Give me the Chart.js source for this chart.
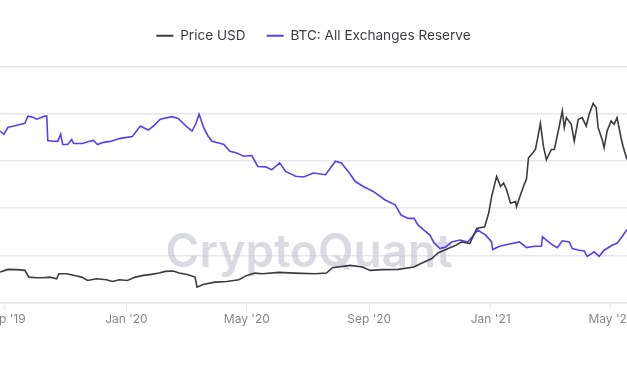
<!DOCTYPE html>
<html>
<head>
<meta charset="utf-8">
<script src="https://cdn.jsdelivr.net/npm/chart.js@4.4.1/dist/chart.umd.min.js"></script>
<style>
  html, body { margin: 0; padding: 0; background: #ffffff; overflow: hidden; }
  body { width: 627px; height: 376px; position: relative; }
  #wrap { position: absolute; left: -40px; top: 0; width: 707px; height: 376px; }
</style>
</head>
<body>
<div id="wrap"><canvas id="c"></canvas></div>
<script>
// ---- data ----
const seriesNames = ["Price USD", "BTC: All Exchanges Reserve"];

const tickDates  = ["2019-09-01", "2020-01-01", "2020-05-01", "2020-09-01", "2021-01-01", "2021-05-01"];
const tickLabels = ["Sep '19", "Jan '20", "May '20", "Sep '20", "Jan '21", "May '21"];
const rangeStart = "2019-08-27";
const rangeEnd   = "2021-05-18";

const priceDates = [
  "2019-08-27","2019-09-01","2019-09-04","2019-09-13","2019-09-21","2019-09-25","2019-10-03","2019-10-09",
  "2019-10-16","2019-10-23","2019-10-25","2019-11-02","2019-11-10","2019-11-17","2019-11-23","2019-12-02",
  "2019-12-12","2019-12-18","2019-12-25","2020-01-02","2020-01-10","2020-01-18","2020-01-26","2020-02-03",
  "2020-02-09","2020-02-17","2020-02-23","2020-03-02","2020-03-10","2020-03-12","2020-03-18","2020-03-30",
  "2020-04-11","2020-04-23","2020-05-01","2020-05-09","2020-05-17","2020-06-02","2020-06-18","2020-07-08",
  "2020-07-20","2020-07-26","2020-08-13","2020-08-25","2020-09-02","2020-09-14","2020-09-30","2020-10-16",
  "2020-10-24","2020-11-03","2020-11-09","2020-11-17","2020-11-27","2020-12-03","2020-12-11","2020-12-18",
  "2020-12-26","2020-12-30","2021-01-02","2021-01-07","2021-01-11","2021-01-14","2021-01-17","2021-01-21",
  "2021-01-26","2021-01-27","2021-01-31","2021-02-03","2021-02-06","2021-02-08","2021-02-11","2021-02-15",
  "2021-02-17","2021-02-20","2021-02-23","2021-02-26","2021-03-03","2021-03-06","2021-03-11","2021-03-14",
  "2021-03-16","2021-03-18","2021-03-23","2021-03-26","2021-03-30","2021-04-03","2021-04-07","2021-04-10",
  "2021-04-14","2021-04-17","2021-04-19","2021-04-23","2021-04-25","2021-04-28","2021-05-02","2021-05-05",
  "2021-05-08","2021-05-12","2021-05-14","2021-05-18"
];
const priceValues = [
  9700,10240,10560,10470,10240,8100,7910,7910,
  8100,7590,9190,9190,8640,8100,7040,7590,
  7270,6720,7270,7040,8100,8640,8960,9380,
  9920,10020,9380,8960,8100,4900,5760,6500,
  6720,7270,8640,9380,9190,9600,9380,9190,
  9380,11110,11840,11300,10240,10470,10560,11300,
  12580,13990,15780,16870,18250,19300,18790,23590,
  24100,28390,33700,40110,36910,38000,35850,31590,
  32110,30510,34250,36910,39370,46000,47060,48660,
  51860,56980,49710,45450,48660,48660,56110,60920,
  55600,58800,56660,51310,58260,58800,56110,59860,
  63280,62000,55600,51860,49200,54510,57710,56660,
  58800,52400,49710,45450
];

const reserveDates = [
  "2019-08-27","2019-08-31","2019-09-04","2019-09-09","2019-09-16","2019-09-21","2019-09-24","2019-09-29",
  "2019-10-03","2019-10-08","2019-10-11","2019-10-13","2019-10-14","2019-10-19","2019-10-24","2019-10-27",
  "2019-10-29","2019-11-03","2019-11-07","2019-11-09","2019-11-18","2019-11-24","2019-11-29","2019-12-03",
  "2019-12-09","2019-12-16","2019-12-22","2019-12-26","2020-01-07","2020-01-15","2020-01-23","2020-01-29",
  "2020-02-04","2020-02-16","2020-02-22","2020-03-01","2020-03-07","2020-03-11","2020-03-14","2020-03-19",
  "2020-03-23","2020-03-27","2020-04-02","2020-04-08","2020-04-14","2020-04-20","2020-04-28","2020-05-06",
  "2020-05-12","2020-05-20","2020-05-26","2020-06-03","2020-06-09","2020-06-19","2020-06-27","2020-07-07",
  "2020-07-19","2020-07-29","2020-08-04","2020-08-12","2020-08-18","2020-08-26","2020-09-05","2020-09-17",
  "2020-09-27","2020-10-03","2020-10-10","2020-10-16","2020-10-20","2020-10-26","2020-11-01","2020-11-05",
  "2020-11-11","2020-11-17","2020-11-23","2020-12-01","2020-12-09","2020-12-19","2020-12-27","2021-01-02",
  "2021-01-03","2021-01-10","2021-01-20","2021-01-30","2021-02-06","2021-02-14","2021-02-21","2021-02-22",
  "2021-02-26","2021-03-03","2021-03-09","2021-03-14","2021-03-21","2021-03-24","2021-03-31","2021-04-05",
  "2021-04-08","2021-04-15","2021-04-20","2021-04-25","2021-05-03","2021-05-08","2021-05-13","2021-05-18"
];
const reserveValues = [
  2.927,2.913,2.943,2.947,2.955,2.960,2.990,2.985,
  2.977,2.985,2.990,2.990,2.887,2.884,2.883,2.913,
  2.870,2.870,2.891,2.874,2.874,2.883,2.887,2.870,
  2.879,2.883,2.891,2.896,2.904,2.948,2.931,2.951,
  2.977,2.988,2.980,2.948,2.927,2.960,2.998,2.938,
  2.906,2.884,2.877,2.870,2.841,2.835,2.820,2.823,
  2.777,2.775,2.763,2.792,2.756,2.735,2.732,2.749,
  2.742,2.799,2.792,2.749,2.713,2.692,2.671,2.635,
  2.614,2.571,2.557,2.557,2.529,2.507,2.486,2.454,
  2.429,2.436,2.457,2.465,2.457,2.507,2.486,2.457,
  2.425,2.439,2.448,2.457,2.433,2.439,2.439,2.479,
  2.465,2.448,2.433,2.462,2.457,2.429,2.422,2.419,
  2.396,2.415,2.396,2.422,2.443,2.451,2.479,2.510
];

// ---- helpers ----
const DAY = 86400000;
const origin = Date.UTC(2019, 8, 1);
function dayOf(s) {
  const [y, m, d] = s.split("-").map(Number);
  return (Date.UTC(y, m - 1, d) - origin) / DAY;
}
function toPoints(dates, values) {
  return dates.map((d, i) => ({ x: dayOf(d), y: values[i] }));
}
const tickDays = tickDates.map(dayOf);

const GRID = "#e7e7ee";

const legendSpacer = {
  id: "legendSpacer",
  beforeInit(chart) {
    const orig = chart.legend.fit;
    chart.legend.fit = function () {
      orig.bind(chart.legend)();
      this.height += 14;
    };
  }
};

const watermark = {
  id: "watermark",
  beforeDatasetsDraw(chart) {
    const { ctx, chartArea } = chart;
    ctx.save();
    ctx.font = "600 46px Inter, 'Noto Sans', sans-serif";
    ctx.fillStyle = "rgba(196,196,206,0.62)";
    ctx.textAlign = "center";
    ctx.textBaseline = "alphabetic";
    ctx.fillText("CryptoQuant", chartArea.left + 309, 267);
    ctx.restore();
  }
};

new Chart(document.getElementById("c"), {
  type: "line",
  data: {
    datasets: [
      {
        label: seriesNames[0],
        data: toPoints(priceDates, priceValues),
        yAxisID: "yPrice",
        borderColor: "#3b3b42",
        backgroundColor: "#3b3b42",
        borderWidth: 1.6,
        pointRadius: 0,
        tension: 0
      },
      {
        label: seriesNames[1],
        data: toPoints(reserveDates, reserveValues),
        yAxisID: "yReserve",
        borderColor: "#5a3cf5",
        backgroundColor: "#5a3cf5",
        borderWidth: 1.6,
        pointRadius: 0,
        tension: 0
      }
    ]
  },
  options: {
    responsive: true,
    maintainAspectRatio: false,
    animation: false,
    events: [],
    layout: { padding: { left: 40, right: 40, top: 8, bottom: 46 } },
    plugins: {
      tooltip: { enabled: false },
      legend: {
        position: "top",
        align: "center",
        labels: {
          usePointStyle: true,
          pointStyle: "line",
          pointStyleWidth: 17,
          boxHeight: 2,
          padding: 21,
          color: "#3c3c44",
          font: { family: "Inter, 'Noto Sans', sans-serif", size: 13.6 },
          generateLabels(chart) {
            return chart.data.datasets.map((ds, i) => ({
              text: ds.label,
              strokeStyle: ds.borderColor,
              fillStyle: ds.borderColor,
              lineWidth: 2,
              pointStyle: "line",
              datasetIndex: i,
              fontColor: "#3c3c44"
            }));
          }
        }
      }
    },
    scales: {
      x: {
        type: "linear",
        min: dayOf(rangeStart),
        max: dayOf(rangeEnd),
        afterBuildTicks(scale) {
          scale.ticks = tickDays.map(v => ({ value: v }));
        },
        ticks: {
          autoSkip: false,
          maxRotation: 0,
          padding: 3,
          color: "#85858f",
          font: { family: "Inter, 'Noto Sans', sans-serif", size: 12 },
          callback: (v, i) => tickLabels[i]
        },
        grid: {
          drawOnChartArea: false,
          drawTicks: true,
          tickLength: 7,
          color: GRID,
          lineWidth: 1
        },
        border: { display: true, color: GRID, width: 1.5 }
      },
      yPrice: {
        position: "left",
        min: 0,
        max: 75000,
        ticks: { display: false, stepSize: 15000 },
        grid: { color: GRID, lineWidth: 1.5, drawTicks: false },
        border: { display: false }
      },
      yReserve: {
        position: "right",
        display: false,
        min: 2.2,
        max: 3.2
      }
    }
  },
  plugins: [legendSpacer, watermark]
});
</script>
</body>
</html>
